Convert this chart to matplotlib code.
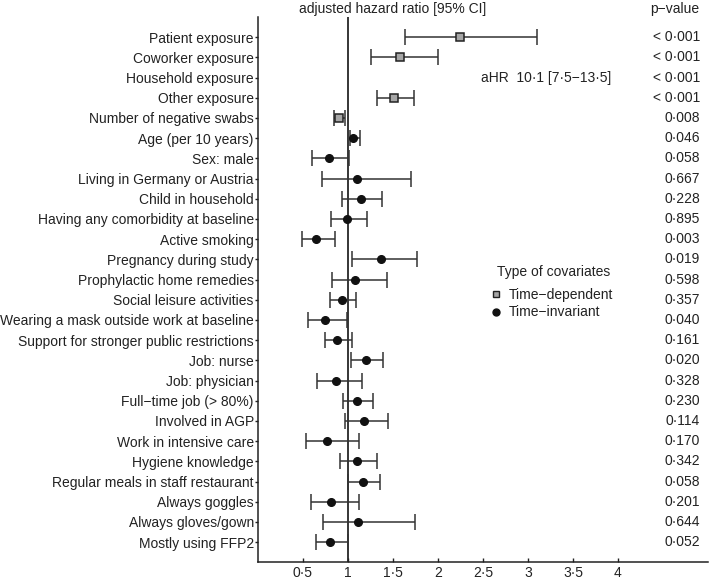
import matplotlib.pyplot as plt
import numpy as np
from matplotlib.lines import Line2D
from matplotlib.ticker import FuncFormatter

plt.rcParams["font.family"] = ["Liberation Sans", "DejaVu Sans"]

labels = [
    "Patient exposure", "Coworker exposure", "Household exposure", "Other exposure",
    "Number of negative swabs", "Age (per 10 years)", "Sex: male",
    "Living in Germany or Austria", "Child in household",
    "Having any comorbidity at baseline", "Active smoking", "Pregnancy during study",
    "Prophylactic home remedies", "Social leisure activities",
    "Wearing a mask outside work at baseline", "Support for stronger public restrictions",
    "Job: nurse", "Job: physician", "Full\u2212time job (> 80%)", "Involved in AGP",
    "Work in intensive care", "Hygiene knowledge", "Regular meals in staff restaurant",
    "Always goggles", "Always gloves/gown", "Mostly using FFP2",
]
hr = [2.24, 1.58, 10.1, 1.51, 0.90, 1.06, 0.79, 1.10, 1.14, 0.99, 0.64, 1.37,
      1.08, 0.93, 0.74, 0.88, 1.20, 0.87, 1.10, 1.18, 0.77, 1.10, 1.17, 0.81, 1.11, 0.80]
ci_low = [1.63, 1.26, 7.5, 1.32, 0.84, 1.02, 0.60, 0.71, 0.93, 0.81, 0.49, 1.05,
          0.82, 0.80, 0.56, 0.74, 1.03, 0.66, 0.94, 0.97, 0.53, 0.91, 1.00, 0.59, 0.72, 0.64]
ci_high = [3.10, 2.00, 13.5, 1.73, 0.97, 1.13, 1.01, 1.70, 1.38, 1.21, 0.86, 1.77,
           1.43, 1.09, 0.99, 1.05, 1.39, 1.16, 1.28, 1.45, 1.12, 1.32, 1.36, 1.12, 1.74, 1.00]
p_values = ["< 0\u00b7001", "< 0\u00b7001", "< 0\u00b7001", "< 0\u00b7001", "0\u00b7008",
            "0\u00b7046", "0\u00b7058", "0\u00b7667", "0\u00b7228", "0\u00b7895", "0\u00b7003",
            "0\u00b7019", "0\u00b7598", "0\u00b7357", "0\u00b7040", "0\u00b7161", "0\u00b7020",
            "0\u00b7328", "0\u00b7230", "0\u00b7114", "0\u00b7170", "0\u00b7342", "0\u00b7058",
            "0\u00b7201", "0\u00b7644", "0\u00b7052"]
time_dependent = [True] * 5 + [False] * 21

x_max = 5.0
n = len(labels)
y = np.arange(n, 0, -1)
txt = "#222222"

fig = plt.figure(figsize=(7.1, 5.82), dpi=100)
ax = fig.add_axes([0.3634, 0.0338, 0.6336, 0.937])

ax.axvline(1, color="black", lw=1.1, zorder=1)

fs = 10
bar_kw = dict(ecolor="#333333", elinewidth=1.1, capsize=5.5, capthick=1.1, zorder=3)
for i in range(n):
    if hr[i] > x_max:
        ax.text(3.93, y[i], "aHR  10\u00b71 [7\u00b75\u221213\u00b75]", ha="right",
                va="center", fontsize=fs, color=txt)
        continue
    err = [[hr[i] - ci_low[i]], [ci_high[i] - hr[i]]]
    if time_dependent[i]:
        ax.errorbar(hr[i], y[i], xerr=err, fmt="s", ms=5.5, mfc="#a6a6a6", mec="#222222",
                    mew=1.1, **bar_kw)
    else:
        ax.errorbar(hr[i], y[i], xerr=err, fmt="o", ms=5.5, mfc="#111111", mec="#111111",
                    **bar_kw)

for i in range(n):
    ax.text(4.91, y[i], p_values[i], ha="right", va="center", fontsize=fs, color=txt)

ax.text(1.5, 1.014, "adjusted hazard ratio [95% CI]", transform=ax.get_xaxis_transform(),
        ha="center", va="center", fontsize=fs, color=txt)
ax.text(4.91, 1.014, "p\u2212value", transform=ax.get_xaxis_transform(),
        ha="right", va="center", fontsize=fs, color=txt)

ax.set_xlim(0, x_max)
ax.set_ylim(0, n + 1)
ax.set_xticks([0.5, 1, 1.5, 2, 2.5, 3, 3.5, 4])
ax.xaxis.set_major_formatter(FuncFormatter(lambda v, _: f"{v:g}".replace(".", "\u00b7")))
ax.set_yticks(y)
ax.set_yticklabels(labels)
ax.tick_params(axis="both", labelsize=fs, colors=txt, width=1)
ax.tick_params(axis="x", direction="in", length=3, pad=3)
ax.tick_params(axis="y", length=2.2, pad=0.8)
for side in ["top", "right"]:
    ax.spines[side].set_visible(False)
for side in ["left", "bottom"]:
    ax.spines[side].set_linewidth(1.1)
    ax.spines[side].set_color(txt)

# legend: title as separate text so it sits left-aligned with a wider gap
ax.text(0.531, 0.533, "Type of covariates", transform=ax.transAxes, ha="left",
        va="center", fontsize=fs, color=txt)
handles = [
    Line2D([], [], ls="none", marker="s", ms=5, mfc="#a6a6a6", mec="#222222", mew=1),
    Line2D([], [], ls="none", marker="o", ms=5, mfc="#111111", mec="#111111"),
]
leg = ax.legend(handles, ["Time\u2212dependent", "Time\u2212invariant"],
                frameon=False, fontsize=fs, loc="upper left",
                bbox_to_anchor=(0.493, 0.521), handletextpad=0.4,
                labelspacing=0.25, handlelength=1.0, borderpad=0.2)
for t in leg.get_texts():
    t.set_color(txt)

fig.savefig("out.png", dpi=100)
